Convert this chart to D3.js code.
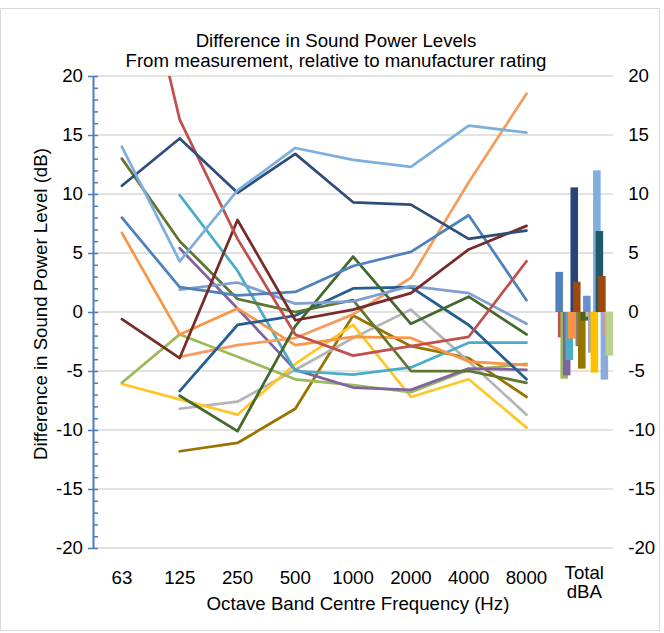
<!DOCTYPE html>
<html><head><meta charset="utf-8">
<script src="https://cdn.jsdelivr.net/npm/d3@7"></script>
<style>
body{margin:0;background:#fff}
svg{display:block}
text{font-family:"Liberation Sans",Arial,sans-serif;fill:#000}
</style>
</head><body>
<svg id="chart" width="664" height="633"></svg>
<script>
// ---- data ----
const categories = ["63","125","250","500","1000","2000","4000","8000","Total"];
const freqBands = ["63","125","250","500","1000","2000","4000","8000"];
const yTicks = [-20,-15,-10,-5,0,5,10,15,20];

const lineNavy       = [10.7, 14.7, 10.1, 13.4, 9.3, 9.1, 6.2, 6.9];
const lineLightBlue  = [14.0, 4.3, 10.3, 13.9, 12.9, 12.3, 15.8, 15.2];
const lineRed        = [37.0, 16.3, 6.2, -1.9, -3.7, -2.9, -2.1, 4.3];
const lineBlue       = [8.0, 2.1, 1.4, 1.7, 3.9, 5.1, 8.2, 1.0];
const lineSteelBlue  = [null, 1.9, 2.5, 0.7, 0.9, 2.2, 1.6, -1.0];
const lineOlive      = [13.0, 6.0, 1.1, 0.0, 1.0, -5.0, -5.0, -6.0];
const lineDarkGreen  = [null, -7.1, -10.1, -1.2, 4.7, -1.0, 1.3, -1.9];
const lineTeal       = [null, 9.9, 3.5, -5.0, -5.3, -4.7, -2.6, -2.6];
const linePurple     = [null, 5.4, 0.3, -4.9, -6.4, -6.6, -4.8, -4.9];
const lineOrange     = [6.7, -1.9, 0.3, -2.8, -2.1, -2.2, -4.2, -4.5];
const lineLightOrange= [null, -3.8, -2.8, -2.2, -0.2, 2.9, 11.0, 18.5];
const lineMaroon     = [-0.6, -3.9, 7.8, -0.7, 0.2, 1.6, 5.3, 7.3];
const lineYellowGreen= [-6.0, -1.9, -3.8, -5.7, -6.2, -6.8, -4.9, -4.4];
const lineYellow     = [-6.1, -7.4, -8.7, -4.4, -1.1, -7.2, -5.7, -9.8];
const lineGray       = [null, -8.2, -7.6, -4.9, -2.2, 0.2, -4.2, -8.7];
const lineDarkBlue   = [null, -6.7, -1.1, -0.3, 2.0, 2.1, -1.1, -5.7];
const lineBrown      = [null, -11.8, -11.1, -8.2, -0.3, -2.9, -3.9, -7.2];

const totalValues = [3.4, -2.15, -5.65, -5.37, -4.07, -2.26, 10.56, 2.57, -2.9, -4.8, -0.73,
                     1.38, -0.4, -3.45, -5.14, 12.0, 6.86, 3.05, -5.73, -1.98, -3.7];
const totalColors = ["#4F81BD","#C0504D","#9BBB59","#8064A2","#4BACC6","#F79646","#264478",
                     "#9E480E","#7F7F7F","#997300","#43682B","#698ED0","#F4B183","#A5A5A5",
                     "#FFC000","#7CAFDD","#215968","#9E480E","#8EA9DB","#D99694","#B9D18C"];

const lineSeries = [
  {values: lineBrown,       color: "#997300"},
  {values: lineGray,        color: "#B4B4B4"},
  {values: lineYellow,      color: "#FFC626"},
  {values: lineYellowGreen, color: "#9BBB59"},
  {values: linePurple,      color: "#8064A2"},
  {values: lineTeal,        color: "#4BACC6"},
  {values: lineOrange,      color: "#F79646"},
  {values: lineLightOrange, color: "#F59D5E"},
  {values: lineDarkBlue,    color: "#255E91"},
  {values: lineOlive,       color: "#5F7530"},
  {values: lineDarkGreen,   color: "#43682B"},
  {values: lineSteelBlue,   color: "#7F9FD3"},
  {values: lineBlue,        color: "#4F81BD"},
  {values: lineMaroon,      color: "#772C2A"},
  {values: lineRed,         color: "#C0504D"},
  {values: lineNavy,        color: "#2E4D78"},
  {values: lineLightBlue,   color: "#7CAFDD"}
];

// ---- layout ----
const FS = 18.67;
const plot = {left: 93, right: 613.2, top: 76, bottom: 548};
const svg = d3.select("#chart");
const fmt = d => String(d);   // plain hyphen-minus, as in the reference

// chart border
svg.append("rect").attr("x", 0.5).attr("y", 8.5).attr("width", 659).attr("height", 622)
  .attr("fill", "#fff").attr("stroke", "#D9D9D9").attr("stroke-width", 1);

const x = d3.scaleBand().domain(categories).range([plot.left, plot.right]).padding(0);
const y = d3.scaleLinear().domain([-20, 20]).range([plot.bottom, plot.top]);

// gridlines
svg.append("g").selectAll("line").data(yTicks).join("line")
  .attr("x1", plot.left).attr("x2", plot.right)
  .attr("y1", d => y(d)).attr("y2", d => y(d))
  .attr("stroke", "#D9D9D9").attr("stroke-width", 1.5);

// clip
svg.append("defs").append("clipPath").attr("id", "clip")
  .append("rect").attr("x", plot.left).attr("y", plot.top)
  .attr("width", plot.right - plot.left).attr("height", plot.bottom - plot.top);

// lines
const line = d3.line()
  .defined(d => d.v !== null)
  .x(d => x(d.c) + x.bandwidth() / 2)
  .y(d => y(d.v));

const lg = svg.append("g").attr("clip-path", "url(#clip)");
lineSeries.forEach(s => {
  lg.append("path")
    .datum(freqBands.map((c, i) => ({c, v: s.values[i]})))
    .attr("d", line)
    .attr("fill", "none")
    .attr("stroke", s.color)
    .attr("stroke-width", 2.75)
    .attr("stroke-linejoin", "round")
    .attr("stroke-linecap", "round");
});

// total bars (clustered, overlapping, zero gap)
const nBars = totalValues.length;
const overlap = 0.667;
const barW = x.bandwidth() / (nBars - (nBars - 1) * overlap);
const barStep = barW * (1 - overlap);
const bx = d3.scaleLinear().domain([0, nBars - 1])
  .range([x("Total"), x("Total") + (nBars - 1) * barStep]);
svg.append("g").selectAll("rect").data(totalValues).join("rect")
  .attr("x", (d, i) => bx(i))
  .attr("width", barW)
  .attr("y", d => y(Math.max(0, d)))
  .attr("height", d => Math.abs(y(d) - y(0)))
  .attr("fill", (d, i) => totalColors[i]);

// left axis
const axisColor = "#4A7EBF";
const minor = d3.range(-20, 21, 1);
const gMinor = svg.append("g").attr("transform", `translate(${plot.left},0)`)
  .call(d3.axisLeft(y).tickValues(minor).tickSizeInner(-5).tickSizeOuter(0).tickFormat(""));
gMinor.selectAll("line").attr("stroke", axisColor).attr("stroke-width", 1.5);
gMinor.select(".domain").attr("stroke", axisColor).attr("stroke-width", 2);

const gLeft = svg.append("g").attr("transform", `translate(${plot.left},0)`)
  .call(d3.axisLeft(y).tickValues(yTicks).tickSizeInner(5).tickSizeOuter(0).tickPadding(5)
    .tickFormat(fmt));
gLeft.select(".domain").remove();
gLeft.selectAll("line").attr("stroke", axisColor).attr("stroke-width", 1.5);
gLeft.selectAll("text").attr("font-size", FS).attr("font-family", '"Liberation Sans",Arial,sans-serif').attr("fill", "#000");

// right axis labels
const gRight = svg.append("g").attr("transform", `translate(${plot.right},0)`)
  .call(d3.axisRight(y).tickValues(yTicks).tickSize(0).tickPadding(15).tickFormat(fmt));
gRight.select(".domain").remove();
gRight.selectAll("text").attr("font-size", FS).attr("font-family", '"Liberation Sans",Arial,sans-serif').attr("fill", "#000");

// x labels
const xl = svg.append("g");
freqBands.forEach(c => {
  xl.append("text").attr("x", x(c) + x.bandwidth() / 2).attr("y", 584)
    .attr("text-anchor", "middle").attr("font-size", FS).text(c);
});
xl.append("text").attr("x", x("Total") + x.bandwidth() / 2).attr("y", 579)
  .attr("text-anchor", "middle").attr("font-size", FS).text("Total");
xl.append("text").attr("x", x("Total") + x.bandwidth() / 2).attr("y", 598)
  .attr("text-anchor", "middle").attr("font-size", FS).text("dBA");

// axis titles
svg.append("text").attr("x", 358).attr("y", 610).attr("text-anchor", "middle")
  .attr("font-size", FS).text("Octave Band Centre Frequency (Hz)");
svg.append("text").attr("transform", "translate(47,304) rotate(-90)").attr("text-anchor", "middle")
  .attr("font-size", FS).text("Difference in Sound Power Level (dB)");

// title
svg.append("text").attr("x", 336).attr("y", 47).attr("text-anchor", "middle")
  .attr("font-size", FS).text("Difference in Sound Power Levels");
svg.append("text").attr("x", 336).attr("y", 66.5).attr("text-anchor", "middle")
  .attr("font-size", FS).text("From measurement, relative to manufacturer rating");
</script>
</body></html>
